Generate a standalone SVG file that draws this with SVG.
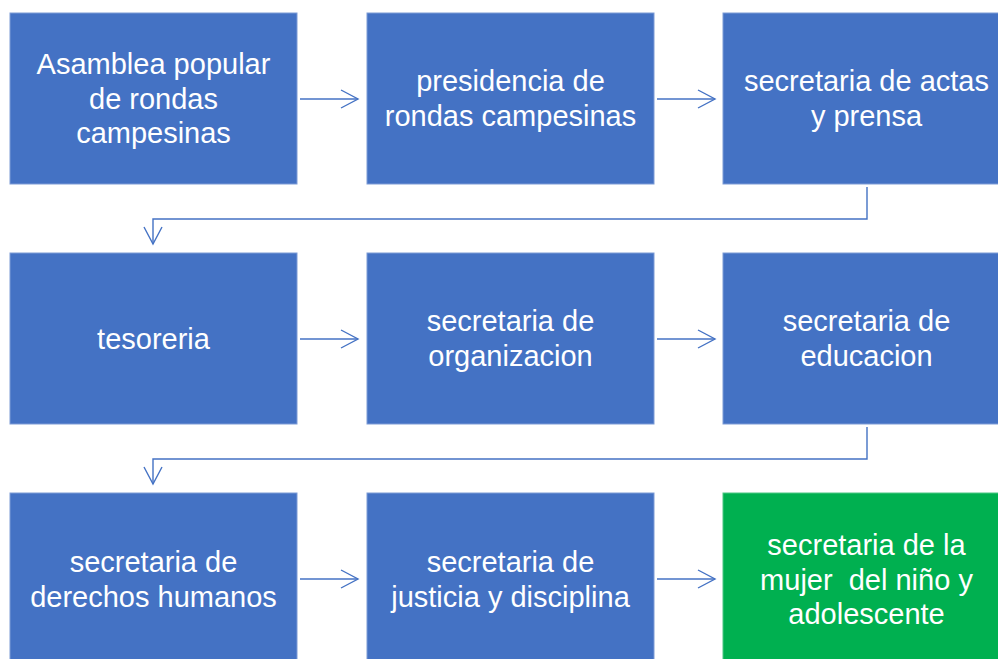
<svg xmlns="http://www.w3.org/2000/svg" width="998" height="659" viewBox="0 0 998 659">
<style>
.box{fill:#4472C4;stroke:#7C9BD6;stroke-width:1}
.green{fill:#00B050;stroke:#4CC884;stroke-width:1}
.t{fill:#FFFFFF;font-family:"Liberation Sans",Arial,sans-serif;font-size:29px;text-anchor:middle}
.c{fill:none;stroke:#4472C4;stroke-width:1.4}
</style>
<defs>
<marker id="ah" viewBox="0 0 20 20" refX="18" refY="10" markerWidth="20" markerHeight="20" markerUnits="userSpaceOnUse" orient="auto">
<path d="M1,1 L18,10 L1,19" fill="none" stroke="#4472C4" stroke-width="1.4"/>
</marker>
</defs>
<rect width="998" height="659" fill="#FFFFFF"/>
<g id="connectors">
<line class="c" x1="300" y1="99" x2="358" y2="99" marker-end="url(#ah)"/>
<line class="c" x1="657" y1="99" x2="715" y2="99" marker-end="url(#ah)"/>
<polyline class="c" points="867,187 867,219 153,219 153,244" marker-end="url(#ah)"/>
<line class="c" x1="300" y1="339" x2="358" y2="339" marker-end="url(#ah)"/>
<line class="c" x1="657" y1="339" x2="715" y2="339" marker-end="url(#ah)"/>
<polyline class="c" points="867,427 867,459 153,459 153,484" marker-end="url(#ah)"/>
<line class="c" x1="300" y1="579" x2="358" y2="579" marker-end="url(#ah)"/>
<line class="c" x1="657" y1="579" x2="715" y2="579" marker-end="url(#ah)"/>
</g>
<g id="n1"><rect class="box" x="10" y="13" width="287" height="171"/>
<text class="t" x="153.5" y="73.5">Asamblea popular</text><text class="t" x="153.5" y="108.5">de rondas</text><text class="t" x="153.5" y="142.5">campesinas</text></g>
<g id="n2"><rect class="box" x="367" y="13" width="287" height="171"/>
<text class="t" x="510.5" y="91">presidencia de</text><text class="t" x="510.5" y="125.5">rondas campesinas</text></g>
<g id="n3"><rect class="box" x="723" y="13" width="287" height="171"/>
<text class="t" x="866.5" y="91">secretaria de actas</text><text class="t" x="866.5" y="125.5">y prensa</text></g>
<g id="n4"><rect class="box" x="10" y="253" width="287" height="171"/>
<text class="t" x="153.5" y="348.5">tesoreria</text></g>
<g id="n5"><rect class="box" x="367" y="253" width="287" height="171"/>
<text class="t" x="510.5" y="331">secretaria de</text><text class="t" x="510.5" y="365.5">organizacion</text></g>
<g id="n6"><rect class="box" x="723" y="253" width="287" height="171"/>
<text class="t" x="866.5" y="331">secretaria de</text><text class="t" x="866.5" y="365.5">educacion</text></g>
<g id="n7"><rect class="box" x="10" y="493" width="287" height="171"/>
<text class="t" x="153.5" y="572">secretaria de</text><text class="t" x="153.5" y="606.5">derechos humanos</text></g>
<g id="n8"><rect class="box" x="367" y="493" width="287" height="171"/>
<text class="t" x="510.5" y="572">secretaria de</text><text class="t" x="510.5" y="606.5">justicia y disciplina</text></g>
<g id="n9"><rect class="green" x="723" y="493" width="287" height="171"/>
<text class="t" x="866.5" y="555">secretaria de la</text><text class="t" x="866.5" y="589.5" xml:space="preserve">mujer  del niño y</text><text class="t" x="866.5" y="623.5">adolescente</text></g>
</svg>
